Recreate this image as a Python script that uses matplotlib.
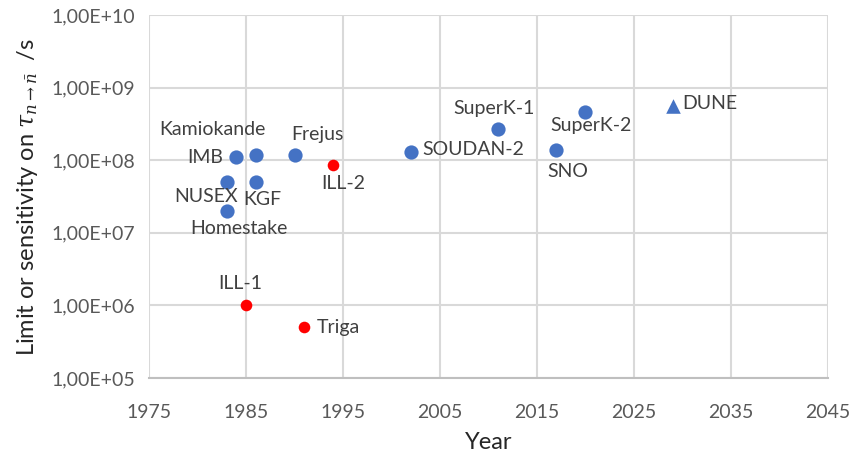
import numpy as np
import matplotlib
matplotlib.use('Agg')
import matplotlib.pyplot as plt
from matplotlib.ticker import FixedLocator, FuncFormatter

plt.rcParams['font.family'] = ['Lato', 'DejaVu Sans']
plt.rcParams['mathtext.fontset'] = 'dejavuserif'

# underground detectors (blue circles)
det_names = ['Kamiokande', 'IMB', 'Frejus', 'NUSEX', 'KGF', 'Homestake',
             'SOUDAN-2', 'SuperK-1', 'SNO', 'SuperK-2']
det_years = [1986, 1984, 1990, 1983, 1986, 1983, 2002, 2011, 2017, 2020]
det_vals = [1.2e8, 1.1e8, 1.2e8, 5e7, 5e7, 2e7, 1.3e8, 2.7e8, 1.4e8, 4.7e8]

# free neutron experiments (red circles)
free_names = ['ILL-1', 'Triga', 'ILL-2']
free_years = [1985, 1991, 1994]
free_vals = [1e6, 5e5, 8.7e7]

# future sensitivity (triangle)
fut_names = ['DUNE']
fut_years = [2029]
fut_vals = [5.6e8]

# label offsets in pixels (dx, dy, ha)
offsets = {
    'Kamiokande': (-43, 25, 'center'), 'IMB': (-13, 0, 'right'),
    'Frejus': (23, 20, 'center'), 'NUSEX': (-21, -14, 'center'),
    'KGF': (7, -17, 'center'), 'Homestake': (12, -17, 'center'),
    'SOUDAN-2': (11, 3, 'left'), 'SuperK-1': (-4, 20, 'center'),
    'SNO': (11, -22, 'center'), 'SuperK-2': (6, -14, 'center'),
    'ILL-1': (-6, 22, 'center'), 'Triga': (13, 0, 'left'),
    'ILL-2': (10, -19, 'center'), 'DUNE': (9, 2, 'left'),
}

fig = plt.figure(figsize=(8.58, 4.59), dpi=100)
ax = fig.add_axes([0.1737, 0.1765, 0.7913, 0.7905])

blue = '#4472C4'
ax.scatter(det_years, det_vals, s=105, color=blue, zorder=3, linewidths=0)
ax.scatter(free_years, free_vals, s=70, color='#FF0000', zorder=3, linewidths=0)
ax.scatter(fut_years, fut_vals, s=110, color=blue, marker='^', zorder=3, linewidths=0)

for names, xs, ys in [(det_names, det_years, det_vals),
                      (free_names, free_years, free_vals),
                      (fut_names, fut_years, fut_vals)]:
    for n, x, y in zip(names, xs, ys):
        dx, dy, ha = offsets[n]
        ax.annotate(n, (x, y), xytext=(dx, dy), textcoords='offset pixels',
                    ha=ha, va='center', fontsize=14, color='#404040')

ax.set_yscale('log')
ax.set_xlim(1975, 2045)
ax.set_ylim(1e5, 1e10)
ax.xaxis.set_major_locator(FixedLocator(np.arange(1975, 2046, 10)))
ax.yaxis.set_major_locator(FixedLocator([10.0 ** k for k in range(5, 11)]))
ax.yaxis.set_minor_locator(FixedLocator([]))
ax.yaxis.set_major_formatter(FuncFormatter(lambda v, p: '1,00E+%02d' % round(np.log10(v))))

ax.grid(True, color='#D9D9D9', linewidth=1.5)
ax.set_axisbelow(True)
for s in ax.spines.values():
    s.set_visible(False)
ax.spines['bottom'].set_visible(True)
ax.spines['bottom'].set_color('#BFBFBF')
ax.spines['bottom'].set_linewidth(1.5)
ax.tick_params(length=0, labelsize=14, labelcolor='#595959')
ax.tick_params(axis='y', pad=10)
ax.tick_params(axis='x', pad=19)

ax.set_xlabel('Year', fontsize=17, color='#262626', labelpad=8)
ax.set_ylabel(r'Limit or sensitivity on $\tau_{n\rightarrow\bar{n}}$  /s', fontsize=17,
              color='#262626', labelpad=8)

fig.savefig('out.png', dpi=100)
